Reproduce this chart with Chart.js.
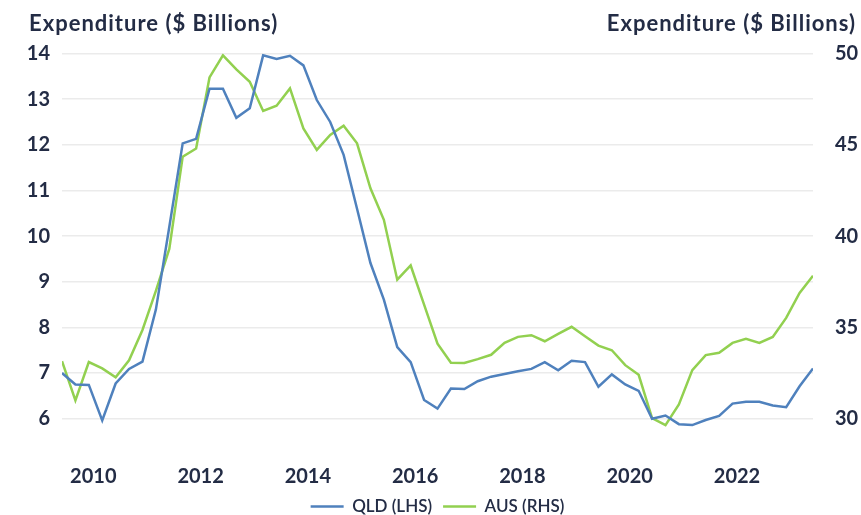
<!DOCTYPE html>
<html>
<head>
<meta charset="utf-8">
<script src="https://cdn.jsdelivr.net/npm/chart.js@4"></script>
<style>
  html, body { margin: 0; padding: 0; background: #fff; }
  #wrap { width: 861px; height: 515px; }
</style>
</head>
<body>
<div id="wrap"><canvas id="chart" width="861" height="515"></canvas></div>
<script>
// quarterly observations, Jun-2009 to Jun-2023
const quarters = [
  '2009-06', '2009-09', '2009-12', '2010-03', '2010-06', '2010-09', '2010-12', '2011-03',
  '2011-06', '2011-09', '2011-12', '2012-03', '2012-06', '2012-09', '2012-12', '2013-03',
  '2013-06', '2013-09', '2013-12', '2014-03', '2014-06', '2014-09', '2014-12', '2015-03',
  '2015-06', '2015-09', '2015-12', '2016-03', '2016-06', '2016-09', '2016-12', '2017-03',
  '2017-06', '2017-09', '2017-12', '2018-03', '2018-06', '2018-09', '2018-12', '2019-03',
  '2019-06', '2019-09', '2019-12', '2020-03', '2020-06', '2020-09', '2020-12', '2021-03',
  '2021-06', '2021-09', '2021-12', '2022-03', '2022-06', '2022-09', '2022-12', '2023-03',
  '2023-06'
];

const qld = [
  7.0, 6.75, 6.74, 5.96, 6.77, 7.09, 7.25, 8.39,
  10.2, 12.03, 12.13, 13.23, 13.23, 12.59, 12.8, 13.96,
  13.88, 13.95, 13.74, 12.98, 12.5, 11.78, 10.6, 9.41,
  8.61, 7.57, 7.24, 6.41, 6.22, 6.66, 6.65, 6.82,
  6.92, 6.98, 7.04, 7.09, 7.24, 7.06, 7.27, 7.24,
  6.7, 6.97, 6.75, 6.61, 6.0, 6.07, 5.88, 5.86,
  5.97, 6.06, 6.33, 6.37, 6.37, 6.29, 6.25, 6.71,
  7.1
];

const aus = [
  33.15, 31.0, 33.1, 32.75, 32.27, 33.2, 34.86, 37.0,
  39.3, 44.35, 44.8, 48.69, 49.9, 49.13, 48.45, 46.85,
  47.14, 48.09, 45.9, 44.72, 45.54, 46.04, 45.08, 42.62,
  40.89, 37.61, 38.39, 36.25, 34.11, 33.06, 33.05, 33.26,
  33.5, 34.15, 34.48, 34.57, 34.24, 34.64, 35.03, 34.51,
  34.0, 33.75, 32.93, 32.4, 30.03, 29.65, 30.78, 32.66,
  33.48, 33.61, 34.15, 34.37, 34.15, 34.48, 35.52, 36.89,
  37.83
];

const yearTicks = [2010, 2012, 2014, 2016, 2018, 2020, 2022];
const lhsTicks = [6, 7, 8, 9, 10, 11, 12, 13, 14];
const rhsTicks = [30, 35, 40, 45, 50];
const axisTitle = 'Expenditure ($ Billions)';

const navy = '#232c45';
const fontFamily = 'Lato, "Open Sans", sans-serif';

// 'YYYY-MM' -> decimal year, so the x axis can be linear
function toYear(q) {
  const [y, m] = q.split('-').map(Number);
  return y + (m - 1) / 12;
}
const xs = quarters.map(toYear);

// axis titles sit above each y axis
const axisTitles = {
  id: 'axisTitles',
  afterDraw(chart) {
    const ctx = chart.ctx;
    ctx.save();
    ctx.fillStyle = navy;
    ctx.font = 'bold 22px ' + fontFamily;
    ctx.letterSpacing = '1px';
    ctx.textBaseline = 'alphabetic';
    ctx.textAlign = 'left';
    ctx.fillText(axisTitle, 29, 31);
    ctx.textAlign = 'right';
    ctx.fillText(axisTitle, 856, 31);
    ctx.restore();
  }
};

const fixTicks = list => scale => { scale.ticks = list.map(v => ({ value: v })); };

new Chart(document.getElementById('chart'), {
  type: 'line',
  data: {
    datasets: [
      {
        label: 'QLD (LHS)',
        data: xs.map((x, i) => ({ x: x, y: qld[i] })),
        borderColor: '#4f81bd',
        backgroundColor: '#4f81bd',
        borderWidth: 2.5,
        pointRadius: 0,
        tension: 0,
        yAxisID: 'y'
      },
      {
        label: 'AUS (RHS)',
        data: xs.map((x, i) => ({ x: x, y: aus[i] })),
        borderColor: '#92d050',
        backgroundColor: '#92d050',
        borderWidth: 2.5,
        pointRadius: 0,
        tension: 0,
        yAxisID: 'y1'
      }
    ]
  },
  options: {
    responsive: false,
    animation: false,
    layout: { padding: { top: 53.5, left: 0, right: 0, bottom: -10 } },
    plugins: {
      tooltip: { enabled: false },
      legend: {
        position: 'bottom',
        fullSize: false,
        labels: {
          usePointStyle: true,
          pointStyle: 'line',
          pointStyleWidth: 33,
          padding: 11,
          color: navy,
          font: { family: fontFamily, size: 17, weight: '600' }
        }
      }
    },
    scales: {
      x: {
        type: 'linear',
        min: toYear(quarters[0]),
        max: toYear(quarters[quarters.length - 1]),
        afterBuildTicks: fixTicks(yearTicks),
        afterFit: scale => { scale.height = 45.5; },
        grid: { display: false },
        border: { display: false },
        ticks: {
          color: navy,
          padding: 15.5,
          maxRotation: 0,
          font: { family: fontFamily, size: 20, weight: 'bold' },
          callback: v => String(v)
        }
      },
      y: {
        position: 'left',
        min: 5.5,
        max: 14,
        afterBuildTicks: fixTicks(lhsTicks),
        afterFit: scale => { scale.width = 62; },
        grid: { color: '#ebebeb', lineWidth: 1.5, drawTicks: false },
        border: { display: false },
        ticks: {
          color: navy,
          padding: 12,
          font: { family: fontFamily, size: 20, weight: 'bold' }
        }
      },
      y1: {
        position: 'right',
        min: 28.75,
        max: 50,
        afterBuildTicks: fixTicks(rhsTicks),
        afterFit: scale => { scale.width = 48; },
        grid: { display: false },
        border: { display: false },
        ticks: {
          color: navy,
          padding: 14,
          font: { family: fontFamily, size: 20, weight: 'bold' }
        }
      }
    }
  },
  plugins: [axisTitles]
});
</script>
</body>
</html>
